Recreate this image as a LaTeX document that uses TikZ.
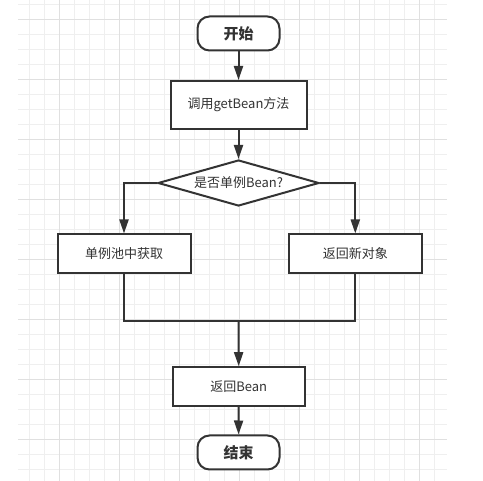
\documentclass[tikz,border=0pt]{standalone}
\usepackage{fontspec}
\setmainfont{Noto Sans CJK SC}
\usetikzlibrary{shapes.geometric,arrows.meta}
\definecolor{ln}{HTML}{333333}
\definecolor{gridthin}{HTML}{EFEFEF}
\definecolor{gridthick}{HTML}{E0E0E0}
\begin{document}
\begin{tikzpicture}[x=1pt,y=-1pt,
  box/.style={draw=ln, line width=2pt, fill=white, minimum width=133pt, minimum height=39pt, inner sep=0pt, text=ln, font=\fontsize{13}{15}\selectfont},
  term/.style={draw=ln, line width=2pt, fill=white, rounded corners=12pt, minimum width=82pt, minimum height=34pt, inner sep=0pt, text=ln, font=\bfseries\fontsize{15}{17}\selectfont},
  dec/.style={diamond, aspect=3.45, draw=ln, line width=2pt, fill=white, minimum width=161pt, minimum height=46pt, inner sep=0pt, text=ln, font=\fontsize{13}{15}\selectfont},
  link/.style={draw=ln, line width=2pt, -{Triangle[length=14pt,width=9pt]}},
  plain/.style={draw=ln, line width=2pt}
]
\useasboundingbox (0,0) rectangle (483,481);
\fill[white] (0,0) rectangle (483,481);
% grid
\foreach \gx in {29.5,44.5,...,440} {\draw[gridthin, line width=1pt] (\gx,0) -- (\gx,481);}
\foreach \gy in {5,20,...,480} {\draw[gridthin, line width=1pt] (18,\gy) -- (447,\gy);}
\foreach \gx in {59.5,119.5,...,440} {\draw[gridthick, line width=1pt] (\gx,0) -- (\gx,481);}
\foreach \gy in {20,80,...,480} {\draw[gridthick, line width=1pt] (18,\gy) -- (447,\gy);}
% nodes
\node[term] (start) at (238.5,33.5) {开始};
\node[box, minimum width=136pt, minimum height=48pt] (call) at (238.5,105) {调用getBean方法};
\node[dec] (dec) at (238.5,183) {是否单例Bean?};
\node[box] (left) at (124,254) {单例池中获取};
\node[box] (right) at (355.3,254) {返回新对象};
\node[box, minimum width=132pt] (ret) at (238.7,386.7) {返回Bean};
\node[term] (end) at (238.5,452.5) {结束};
\coordinate (join) at (238.5,320.7);
% connectors
\draw[link] (start) -- (call);
\draw[link] (call) -- (dec);
\draw[link] (dec.west) -| (left.north);
\draw[link] (dec.east) -| (right.north);
\draw[plain] (left.south) |- (join);
\draw[plain] (right.south) |- (join);
\draw[link] (join) -- (ret.north);
\draw[link] (ret) -- (end);
\end{tikzpicture}
\end{document}
